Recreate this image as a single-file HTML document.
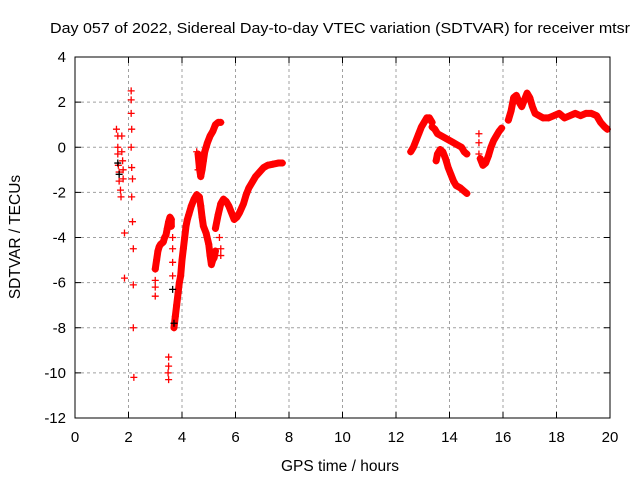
<!DOCTYPE html>
<html><head><meta charset="utf-8"><style>
body{margin:0;background:#fff}
svg{display:block;font-family:"Liberation Sans",sans-serif}
</style></head><body>
<svg id="c" width="640" height="480">
<text x="50" y="33" font-size="15" textLength="580" lengthAdjust="spacingAndGlyphs">Day 057 of 2022, Sidereal Day-to-day VTEC variation (SDTVAR) for receiver mtsr</text>
<g id="grid"></g><g id="pts"></g><g id="axes"></g>
<text x="340" y="471" font-size="15.5" text-anchor="middle">GPS time / hours</text>
<text transform="translate(20,237) rotate(-90)" font-size="15.5" text-anchor="middle">SDTVAR / TECUs</text>
</svg>
<script>
const xTicks=[0,2,4,6,8,10,12,14,16,18,20];
const yTicks=[4,2,0,-2,-4,-6,-8,-10,-12];
const blackX=[1.6,1.65,3.65,3.7];
const blackY=[-0.7,-1.2,-6.3,-7.8];
const sparseX=[
[1.55,1.6,1.6,1.6,1.62,1.65,1.65,1.7,1.72,1.75,1.75,1.78,1.8,1.8,1.85,1.85],
[2.1,2.1,2.1,2.12,2.1,2.12,2.15,2.12,2.15,2.18,2.18,2.18,2.2],
[3.0,3.0,3.0,3.65,3.65,3.65,3.65,3.5,3.5,3.48,3.5,4.55,4.6,5.4,5.45,5.45,15.1,15.1,15.1]];
const sparseY=[
[0.8,0.5,0,-0.3,-0.8,-1.1,-1.5,-1.9,-2.2,0.5,-0.2,-0.6,-1.0,-1.4,-3.8,-5.8],
[2.5,2.1,1.5,0.8,0,-0.9,-1.4,-2.2,-3.3,-4.5,-6.1,-8,-10.2],
[-6.6,-6.2,-5.9,-4.0,-4.5,-5.1,-5.7,-9.3,-9.7,-10.0,-10.3,-0.2,-1.0,-4.0,-4.5,-4.8,0.6,0.2,-0.3]];
const segX=[
[3.0,3.05,3.1,3.15,3.2,3.3,3.35,3.4,3.45,3.5,3.55,3.6,3.6],
[3.7,3.75,3.8,3.85,3.9,3.95,4.0,4.05,4.1,4.15,4.2,4.25,4.35,4.45,4.55,4.65,4.7,4.75,4.8,4.9,5.0,5.05,5.1,5.15,5.2,5.25],
[4.6,4.65,4.7,4.75,4.8,4.85,4.95,5.05,5.15,5.25,5.35,5.45],
[5.25,5.35,5.45,5.55,5.65,5.75,5.85,5.95,6.05,6.15,6.3,6.4,6.5,6.6,6.75,6.9,7.05,7.2,7.4,7.6,7.75],
[12.55,12.65,12.75,12.85,12.95,13.05,13.15,13.25,13.35],
[13.35,13.45,13.55,13.7,13.85,14.0,14.15,14.3,14.45,14.55,14.65],
[13.5,13.55,13.65,13.75,13.85,13.95,14.05,14.15,14.25,14.4,14.55,14.65],
[15.15,15.25,15.35,15.45,15.55,15.65,15.75,15.85,15.95],
[16.2,16.3,16.4,16.5,16.6,16.7,16.8,16.9,17.0,17.1,17.2,17.35,17.5,17.7,17.9,18.1,18.3,18.5,18.7,18.9,19.1,19.3,19.5,19.65,19.8,19.9]];
const segY=[
[-5.4,-5.0,-4.6,-4.4,-4.3,-4.2,-4.0,-3.9,-3.6,-3.3,-3.1,-3.2,-3.5],
[-8.0,-7.5,-7.0,-6.5,-6.0,-5.7,-5.0,-4.5,-4.0,-3.5,-3.2,-3.0,-2.6,-2.3,-2.1,-2.2,-2.6,-3.1,-3.5,-3.8,-4.3,-4.8,-5.2,-5.0,-4.9,-4.6],
[-0.3,-0.9,-1.3,-1.0,-0.6,-0.2,0.2,0.5,0.7,1.0,1.1,1.1],
[-3.6,-3.0,-2.5,-2.3,-2.4,-2.6,-2.9,-3.2,-3.1,-2.9,-2.5,-2.1,-1.8,-1.6,-1.3,-1.1,-0.9,-0.8,-0.75,-0.7,-0.7],
[-0.2,0,0.3,0.6,0.9,1.1,1.3,1.3,1.1],
[0.9,0.8,0.6,0.5,0.4,0.3,0.2,0.1,0,-0.2,-0.3],
[-0.6,-0.3,-0.1,-0.2,-0.5,-0.9,-1.2,-1.5,-1.7,-1.8,-1.95,-2.05],
[-0.5,-0.8,-0.7,-0.4,0,0.3,0.5,0.7,0.85],
[1.2,1.6,2.2,2.3,2.0,1.8,2.1,2.4,2.2,1.8,1.5,1.4,1.3,1.3,1.4,1.5,1.3,1.4,1.5,1.4,1.5,1.5,1.4,1.1,0.9,0.8]];
const NS="http://www.w3.org/2000/svg";
const L=75,R=610,T=57,B=418;
const sx=v=>L+(v-0)/(20-0)*(R-L);
const sy=v=>T+(4-v)/(4-(-12))*(B-T);
function mk(t,a){const e=document.createElementNS(NS,t);for(const k in a)e.setAttribute(k,a[k]);return e;}
const grid=document.getElementById('grid'),axes=document.getElementById('axes'),pts=document.getElementById('pts');
xTicks.forEach(v=>{const x=sx(v);
 if(v>0&&v<20){const g=mk('line',{x1:x,x2:x,y1:T,y2:B,stroke:'#a0a0a0','stroke-dasharray':'3,3'});grid.appendChild(g);}
 axes.appendChild(mk('line',{x1:x,x2:x,y1:B,y2:B-6,stroke:'#000'}));
 axes.appendChild(mk('line',{x1:x,x2:x,y1:T,y2:T+6,stroke:'#000'}));
 const t=mk('text',{x:x,y:B+24,'font-size':15,'text-anchor':'middle'});t.textContent=v;
 
 axes.appendChild(t);});
yTicks.forEach(v=>{const y=sy(v);
 if(v<4&&v>-12){const g=mk('line',{x1:L,x2:R,y1:y,y2:y,stroke:'#a0a0a0','stroke-dasharray':'3,3'});grid.appendChild(g);}
 axes.appendChild(mk('line',{x1:L,x2:L+6,y1:y,y2:y,stroke:'#000'}));
 axes.appendChild(mk('line',{x1:R,x2:R-6,y1:y,y2:y,stroke:'#000'}));
 const t=mk('text',{x:L-9,y:y+5,'font-size':15,'text-anchor':'end'});t.textContent=v;
 
 axes.appendChild(t);});
const fr=mk('rect',{x:L,y:T,width:R-L,height:B-T,fill:'none',stroke:'#000'});

axes.appendChild(fr);
function plus(x,y,c){return mk('path',{d:`M${sx(x)-3.5},${sy(y)}h7M${sx(x)},${sy(y)-3.5}v7`,stroke:c,'stroke-width':1.3,fill:'none'});}
segX.forEach((xs,i)=>{
 const pl=mk('polyline',{points:xs.map((x,j)=>sx(x)+','+sy(segY[i][j])).join(' '),fill:'none',stroke:'#f00','stroke-width':7,'stroke-linejoin':'round','stroke-linecap':'round'});
 
 pts.appendChild(pl);
 xs.forEach((x,j)=>{const p=plus(x,segY[i][j],'#f00');
 
 pts.appendChild(p);});});
sparseX.forEach((xs,i)=>xs.forEach((x,j)=>{const p=plus(x,sparseY[i][j],'#f00');
 
 pts.appendChild(p);}));
blackX.forEach((x,j)=>{const p=plus(x,blackY[j],'#000');
 
 pts.appendChild(p);});
</script>
</body></html>
